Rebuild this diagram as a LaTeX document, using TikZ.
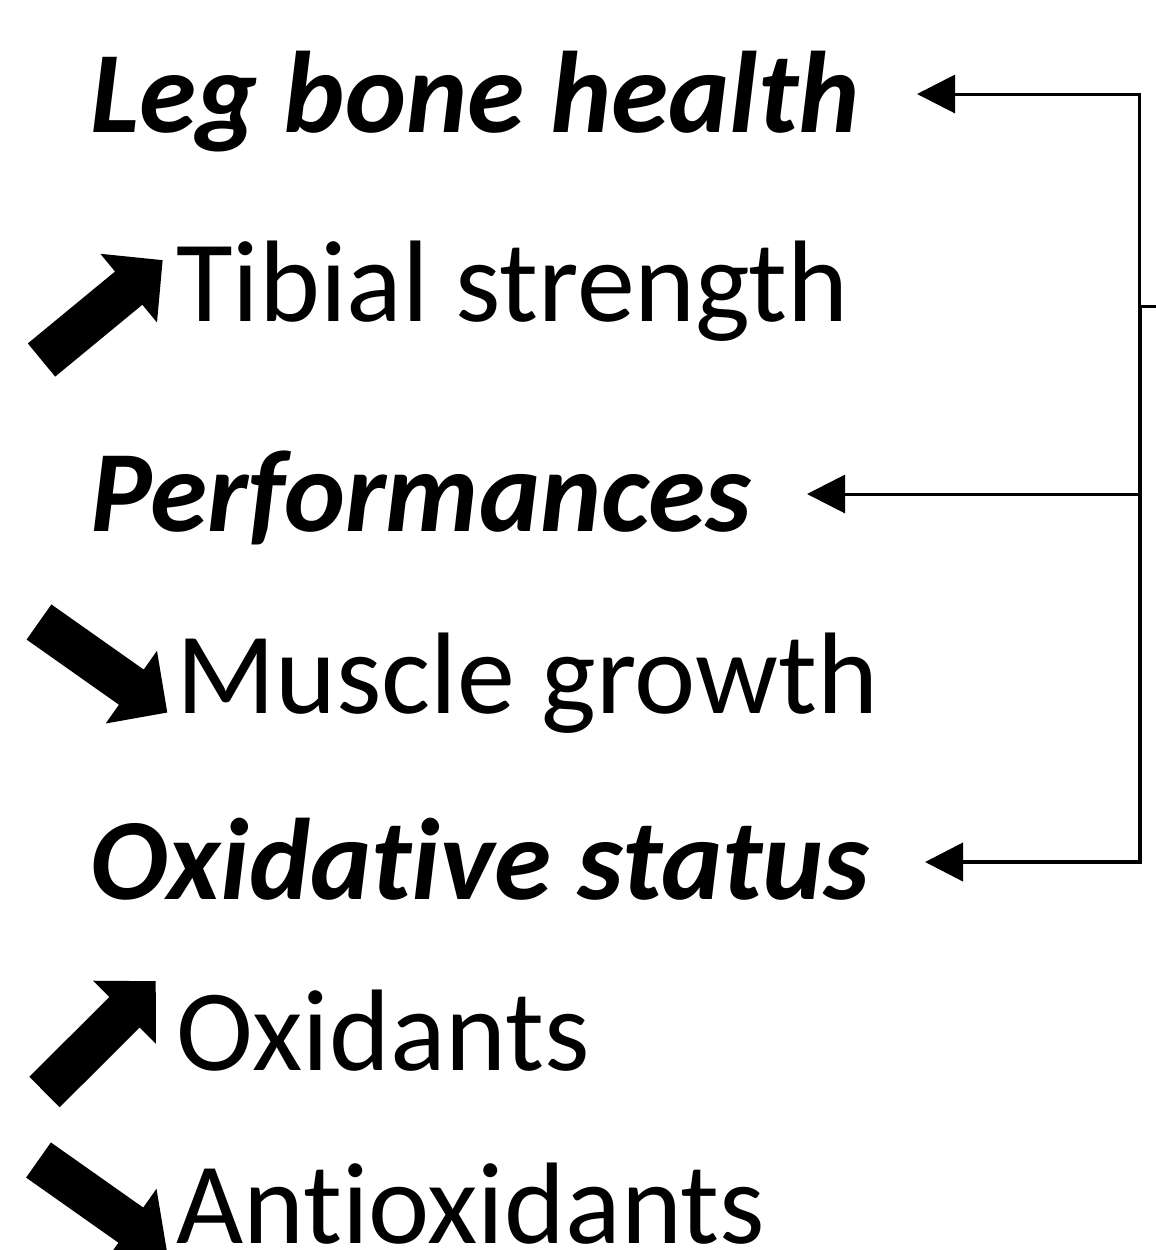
\documentclass[tikz,border=0pt]{standalone}
\usepackage{fontspec}
\setmainfont[Ligatures=NoCommon]{Carlito}
\usetikzlibrary{arrows.meta}
\begin{document}
\begin{tikzpicture}[x=0.5pt,y=0.5pt,
  head/.style={font=\fontsize{58}{58}\selectfont\bfseries\itshape, anchor=base west, inner sep=0pt},
  item/.style={font=\fontsize{58}{58}\selectfont, anchor=base west, inner sep=0pt},
  conn/.style={line width=1.5pt, -{Triangle[length=19pt,width=19pt]}},
  barrow/.pic={\fill (0,-21.5) -- (113,-21.5) -- (113,-44.5) -- (157,0) -- (113,44.5) -- (113,21.5) -- (0,21.5) -- cycle;}]
\useasboundingbox (0,0) rectangle (1156,-1250);
% texts
\node[head] (leg) at (90,-132) {Leg bone health};
\node[item] (tib) at (176,-321) {Tibial strength};
\node[head] (perf) at (90,-531) {Performances};
\node[item] (mus) at (176,-713) {Muscle growth};
\node[head] (oxs) at (90,-899) {Oxidative status};
\node[item] (oxi) at (176,-1070) {Oxidants};
\node[item] (anti) at (176,-1243) {Antioxidants};
% block arrows
\pic[rotate=39.5] at (41.5,-360) {barrow};
\pic[rotate=-35.2] at (39,-622) {barrow};
\pic[rotate=44.9] at (44.5,-1092) {barrow};
\pic[rotate=-35.2] at (38.5,-1160) {barrow};
% connectors
\coordinate (in) at (1160,-306);
\coordinate (sp) at (1139.5,-306);
\coordinate (t1) at (917,-94);
\coordinate (t2) at (807,-494);
\coordinate (t3) at (925,-862);
\draw[line width=1.5pt] (in) -- (sp);
\draw[conn] (sp) |- (t1);
\draw[conn, line width=2pt] (sp) |- (t3);
\draw[conn] (sp |- t2) -- (t2);
\end{tikzpicture}
\end{document}
